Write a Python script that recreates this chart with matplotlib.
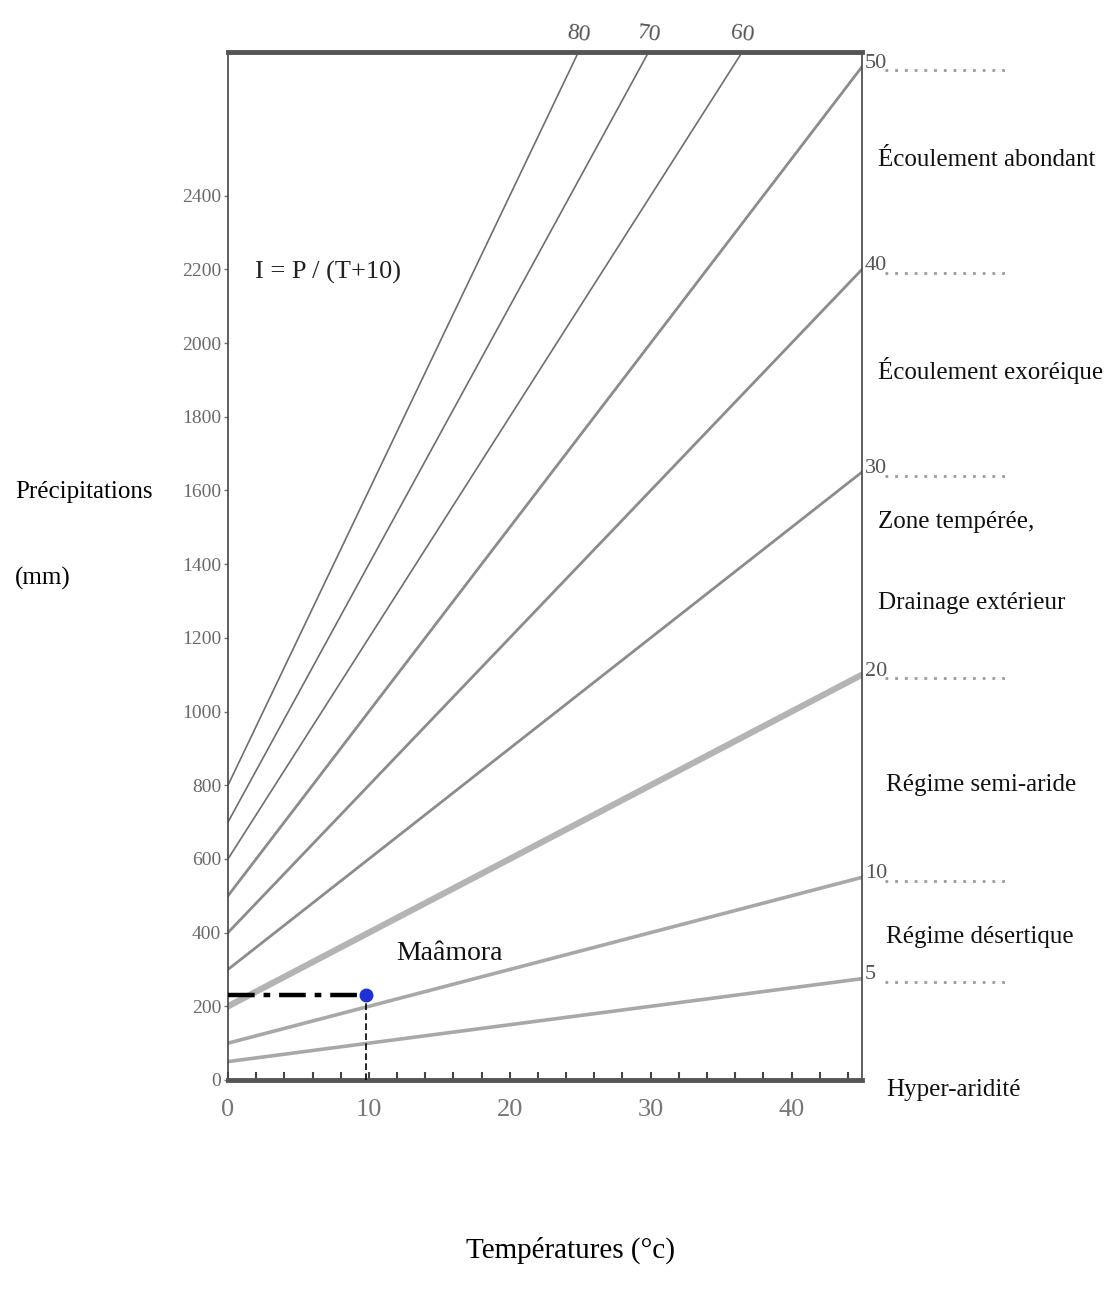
import numpy as np
import matplotlib
matplotlib.use('Agg')
import matplotlib.pyplot as plt

plt.rcParams['font.family'] = ['Liberation Serif', 'DejaVu Serif']

# De Martonne index lines I = P / (T + 10)
indices = [5, 10, 20, 30, 40, 50, 60, 70, 80]
top_labels = [80, 70, 60]
right_labels = [50, 40, 30, 20, 10, 5]
zone_names = ['Écoulement abondant', 'Écoulement exoréique', 'Zone tempérée,',
              'Drainage extérieur', 'Régime semi-aride', 'Régime désertique', 'Hyper-aridité']
zone_y_px = [160, 370, 522, 603, 785, 937, 1090]
x_ticks = [0, 10, 20, 30, 40]
y_ticks = [0, 200, 400, 600, 800, 1000, 1200, 1400, 1600, 1800, 2000, 2200, 2400]

# station
station = 'Maâmora'
station_T = 9.8
station_P = 230

T_MAX = 45
P_MAX = 2790

W, H = 1106, 1291
fig = plt.figure(figsize=(W / 100, H / 100), dpi=100)
ax = fig.add_axes([228 / W, 1 - 1080 / H, (862 - 228) / W, (1080 - 52) / H])
ax.set_xlim(0, T_MAX)
ax.set_ylim(0, P_MAX)

T = np.linspace(0, T_MAX, 200)
for I in indices:
    P = I * (T + 10)
    if I >= 60:
        color, lw = '#6e6e6e', 1.2
    elif I == 20:
        color, lw = '#b4b4b4', 4.5
    elif I in (5, 10):
        color, lw = '#a8a8a8', 2.6
    else:
        color, lw = '#8c8c8c', 2.0
    ax.plot(T, P, color=color, lw=lw, zorder=2)

# labels at top edge
for I in top_labels:
    t_top = P_MAX / I - 10
    ax.text(t_top, P_MAX + 15, str(I), ha='center', va='bottom', fontsize=17,
            color='#555555', rotation=-8, clip_on=False)

# labels at right edge + dotted extensions
for I in right_labels:
    p_end = I * (T_MAX + 10)
    ax.text(T_MAX + 0.2, p_end + 10, str(I), ha='left', va='center', fontsize=16,
            color='#555555', clip_on=False)
    ax.plot([T_MAX + 1.6, T_MAX + 10.5], [p_end - 10, p_end - 10], color='#9a9a9a',
            lw=2, ls=(0, (1, 2.5)), clip_on=False)

# station marker and guide lines
ax.plot([0, station_T], [station_P, station_P], color='black', lw=3.2,
        ls=(0, (6, 2, 1.5, 2)), zorder=4)
ax.plot([station_T, station_T], [0, station_P], color='black', lw=1.2,
        ls=(0, (4, 2)), zorder=4)
ax.plot([station_T], [station_P], 'o', color='#1f2fd6', ms=9, zorder=5)
ax.annotate(station, (station_T, station_P), xytext=(22, 30), textcoords='offset points',
            fontsize=20, ha='left', va='center', color='#111111')

# spines
for side in ['top', 'bottom']:
    ax.spines[side].set_linewidth(3.5)
    ax.spines[side].set_color('#555555')
for side in ['left', 'right']:
    ax.spines[side].set_linewidth(1.2)
    ax.spines[side].set_color('#444444')

ax.set_xticks(x_ticks)
ax.set_xticks(np.arange(0, T_MAX + 1, 2), minor=True)
ax.tick_params(axis='x', which='both', direction='in', length=6, width=1.5,
               color='#444444', labelsize=19, labelcolor='#777777', pad=14)
ax.set_yticks(y_ticks)
ax.tick_params(axis='y', direction='out', length=3, width=1, color='#777777',
               labelsize=14, labelcolor='#6a6a6a', pad=2)

# formula
fig.text(255 / W, 1 - 272 / H, 'I = P / (T+10)', fontsize=19, ha='left', va='center',
         color='#222222')

# zone names on the right
for name, ypx in zip(zone_names, zone_y_px):
    xpx = 886 if name.startswith(('Régime', 'Hyper')) else 878
    fig.text(xpx / W, 1 - ypx / H, name, fontsize=18, ha='left', va='center',
             color='#111111')

# axis titles
fig.text(15 / W, 1 - 492 / H, 'Précipitations', fontsize=18, ha='left', va='center')
fig.text(15 / W, 1 - 578 / H, '(mm)', fontsize=18, ha='left', va='center')
fig.text(570 / W, 1 - 1250 / H, 'Températures (°c)', fontsize=21, ha='center', va='center')

fig.savefig('out.png', dpi=100, facecolor='white')
